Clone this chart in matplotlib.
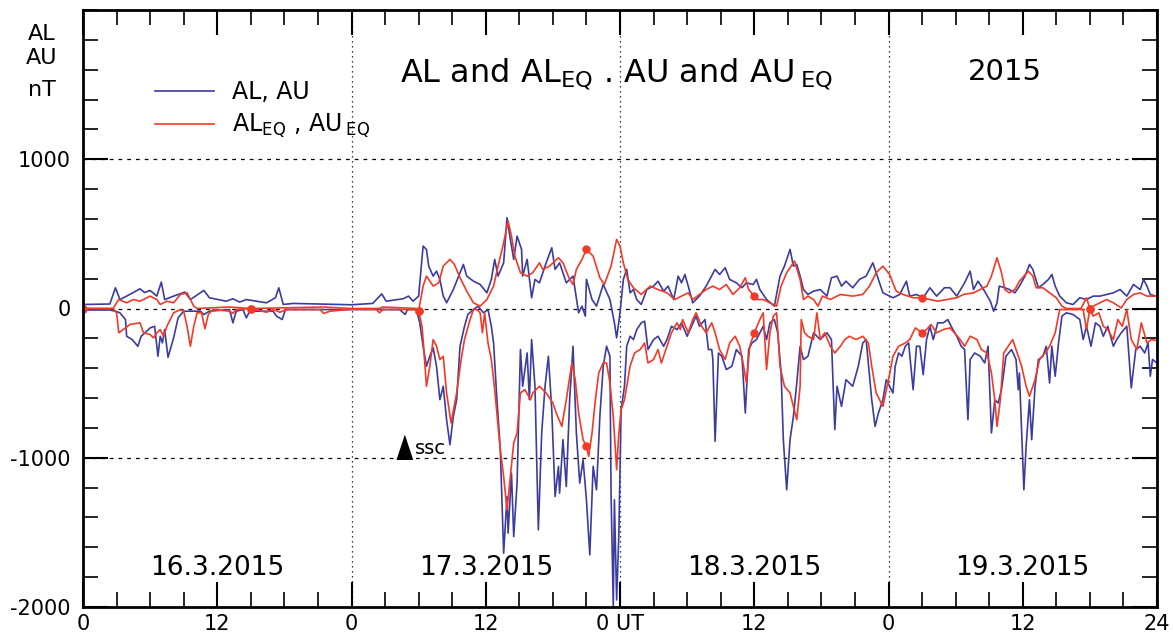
import numpy as np
import matplotlib
matplotlib.use('Agg')
from matplotlib import pyplot as plt

plt.rcParams['font.family'] = ['DejaVu Sans']
plt.rcParams['mathtext.fontset'] = 'dejavusans'

# time in hours from 16.3.2015 00 UT, values in nT
al_t = [0, 2.4, 2.9, 3.3, 3.8, 3.9, 4.4, 4.9, 5.2, 6.0, 6.4, 6.7, 6.9, 7.1, 7.3, 7.6, 8.1, 8.5, 9.0,
        10.5, 10.8, 11.3, 13.1, 13.4, 13.7, 14.3, 14.6, 14.9, 17.0, 17.3, 17.8, 18.1, 24.0,
        28.3, 28.8, 29.0, 29.8, 30.1, 30.4, 30.7, 31.0, 31.3, 31.6, 31.9, 32.2, 32.5, 32.8, 33.1, 33.4,
        33.7, 34.1, 34.4, 34.9, 35.3, 35.8, 36.2, 36.5, 36.7, 37.0, 37.3, 37.6, 37.9, 38.0, 38.3, 38.5,
        38.8, 39.1, 39.3, 39.7, 39.9, 40.1, 40.4, 40.7, 41.0, 41.3, 41.6, 41.9, 42.2, 42.5, 42.6, 42.9,
        43.2, 43.5, 43.8, 44.1, 44.4, 44.7, 45.0, 45.3, 45.6, 45.9, 46.2, 46.5, 46.8, 47.1, 47.2, 47.4,
        47.5, 47.7, 47.9, 48.1, 48.4, 48.6, 48.9, 49.2, 49.5, 49.9,
        50.2, 50.5, 51.0, 51.4, 51.9, 52.2, 52.6, 53.1, 53.5, 54.0, 54.4, 54.8, 55.1, 55.6, 55.9, 56.2,
        56.3, 56.5, 56.8, 57.1, 57.5, 58.0, 58.4, 58.9, 59.2, 59.5, 59.8, 60.2, 60.5, 60.8, 61.1, 61.4,
        61.8, 62.1, 62.4, 62.6, 62.9, 63.2, 63.5, 63.8, 64.1, 64.4, 64.8, 65.3, 65.9, 66.5, 66.9, 67.2,
        67.4, 67.8, 68.2, 68.8, 69.3, 69.7, 70.0, 70.5, 70.8, 71.1, 71.5, 71.8, 72.1, 72.4,
        72.6, 72.9, 73.2, 73.5, 73.8, 74.2, 74.5, 74.8, 75.1, 75.4, 75.7, 76.0, 76.4, 76.9, 77.3, 77.6,
        78.1, 78.5, 78.8, 79.1, 79.3, 79.7, 80.2, 80.6, 80.9, 81.2, 81.5, 81.8, 82.1, 82.5, 83.0, 83.4,
        83.6, 83.7, 84.1, 84.3, 84.6, 84.8, 85.1, 85.4, 85.8, 86.1, 86.4, 86.6, 86.9, 87.2, 87.5, 87.9,
        88.5, 89.1, 89.4, 89.7, 90.1, 90.5, 90.9, 91.2, 91.6, 92.1, 92.4, 92.8, 93.3, 93.7, 94.1, 94.5,
        94.9, 95.2, 95.4, 95.6, 96.0]
al_v = [-10, -10, -18, -29, -74, -186, -208, -253, -186, -130, -119, -320, -186, -230, -141, -327, -197, -63, -18,
        -18, -40, -18, -7, -96, -18, -7, -63, -18, -18, -51, -74, -7, -7,
        -7, -40, -7, -7, -96, -253, -387, -320, -264, -387, -611, -521, -745, -913, -723, -611,
        -253, -119, -40, -7, 16, -29, -7, -119, -231, -611, -946, -1640, -1260, -1505, -1103, -1528,
        -1170, -275, -521, -298, -611, -208, -521, -1483, -834, -521, -320, -678, -1260, -1058, -1237, -879,
        -1193, -611, -253, -834, -1170, -1014, -1282, -1651, -1058, -1215, -723, -387, -253, -320, -1237, -1995,
        -1282, -1953, -1505, -678, -521, -253, -186, -208, -141, -96,
        -85, -275, -208, -186, -253, -208, -119, -141, -96, -186, -119, -51, -119, -74, -275, -275,
        -342, -890, -298, -320, -409, -387, -275, -320, -700, -275, -231, -208, -163, -119, -208, -96,
        -74, -163, -432, -879, -1215, -879, -723, -499, -253, -342, -320, -163, -208, -163, -208, -812,
        -521, -656, -477, -521, -387, -231, -208, -611, -790, -700, -611, -477, -521, -566,
        -387, -298, -320, -253, -231, -544, -253, -253, -443, -208, -119, -208, -96, -96, -74, -119,
        -186, -253, -275, -745, -342, -298, -320, -365, -253, -834, -611, -633, -544, -320, -275, -342,
        -544, -432, -1215, -924, -611, -879, -521, -342, -320, -253, -499, -253, -454, -231, -51, -29,
        -40, -74, -208, -119, -253, -96, -119, -186, -119, -253, -208, -163, -119, -532, -275, -253,
        -298, -231, -454, -342, -365]

au_t = [0, 2.4, 2.9, 3.3, 3.9, 5.1, 5.5, 6.0, 6.6, 7.0, 7.3, 8.1, 9.1, 9.6, 10.8, 11.3, 12.8, 13.4,
        14.0, 14.6, 15.5, 16.4, 17.2, 17.5, 17.9, 18.8, 21.0, 24.0,
        25.9, 26.7, 27.1, 28.6, 29.1, 29.5, 30.0, 30.4, 30.7, 30.9, 31.3, 31.6, 31.9, 32.2, 32.5, 33.1,
        33.7, 34.0, 34.3, 34.9, 35.5, 36.1, 36.5, 36.8, 37.1, 37.6, 37.9, 38.2, 38.5, 38.8, 39.2, 39.3,
        39.7, 40.1, 40.4, 40.8, 41.4, 41.9, 42.2, 42.6, 43.2, 43.8, 44.3, 44.6, 44.9, 45.0, 45.5, 45.9,
        46.5, 47.1, 47.5, 47.7, 48.0, 48.3, 48.6, 48.9, 49.2, 49.5, 49.9,
        50.4, 51.0, 51.4, 51.9, 52.3, 52.8, 53.2, 53.5, 53.8, 54.1, 54.5, 55.1, 55.7, 56.5, 56.9, 57.4,
        57.8, 58.4, 58.9, 59.3, 59.9, 60.2, 60.5, 61.1, 61.8, 62.3, 62.7, 63.2, 63.5, 63.8, 64.1, 64.4,
        64.8, 65.3, 65.9, 66.5, 66.9, 67.4, 67.8, 68.2, 68.8, 69.4, 70.0, 70.6, 71.1, 71.5, 72.1,
        72.4, 73.0, 73.6, 73.9, 74.5, 75.1, 75.7, 76.3, 77.0, 77.5, 78.1, 78.8, 79.3, 79.6, 80.0, 80.5,
        81.1, 81.4, 81.7, 81.9, 82.4, 82.8, 83.3, 83.7, 84.2, 84.6, 84.9, 85.4, 85.8, 86.3, 86.6, 86.9,
        87.3, 87.9, 88.5, 89.1, 89.7, 90.3, 90.9, 91.5, 92.1, 92.7, 93.3, 93.9, 94.5, 94.8, 95.1, 95.4,
        95.9, 96.0]
au_v = [27, 30, 139, 60, 83, 132, 107, 121, 83, 177, 60, 83, 110, 60, 121, 72, 49, 65,
        43, 60, 49, 38, 72, 139, 27, 34, 30, 25,
        34, 98, 49, 65, 83, 49, 83, 418, 396, 284, 217, 250, 195, 83, 38, 127,
        240, 295, 217, 183, 161, 105, 195, 329, 217, 306, 608, 463, 329, 485, 396, 217,
        329, 72, 195, 172, 306, 407, 262, 306, 172, 217, -29, 16, -51, 195, 60, 16,
        161, 60, -96, -197, -29, 195, 262, 105, 127, 60, 27,
        127, 150, 183, 116, 150, 60, 217, 172, 228, 150, 38, 83, 150, 262, 228, 273,
        195, 172, 139, 172, 161, 195, 127, 60, 16, 217, 284, 396, 284, 295, 217, 127,
        94, 116, 127, 83, 206, 217, 150, 183, 139, 195, 217, 306, 195, 105, 83,
        72, 94, 183, 83, 94, 72, 139, 83, 139, 139, 83, 172, 250, 127, 183, 127,
        49, -18, 38, 150, 139, 127, 105, 150, 217, 295, 262, 139, 161, 195, 228, 150,
        83, 38, 27, 72, 60, 83, 83, 94, 105, 127, 83, 161, 127, 195, 150, 94,
        83, 83]

aleq_t = [0, 2.7, 3.0, 3.2, 3.6, 4.2, 5.1, 5.4, 6.0, 6.3, 6.6, 6.9, 7.2, 7.5, 8.1, 8.7, 9.0, 9.3, 9.6,
          9.9, 10.2, 10.6, 10.9, 11.2, 11.6, 13.1, 13.4, 13.7, 15.0, 16.4, 17.0, 17.6, 18.2, 21.2, 21.5,
          22.1, 24.0, 26.2, 26.5, 26.8, 29.8, 30.0, 30.3, 30.4, 30.7, 31.0, 31.3, 31.6, 31.9, 32.2, 32.5,
          32.9, 33.4, 33.8, 34.1, 34.6, 34.9, 35.2, 35.5, 35.7, 35.9, 36.2, 36.5, 36.8, 37.3, 37.6, 37.9,
          38.2, 38.5, 38.8, 39.1, 39.5, 40.0, 40.2, 40.8, 41.4, 42.0, 42.3, 42.8, 43.2, 43.7, 44.0, 44.3,
          44.7, 45.0, 45.2, 45.5, 45.8, 46.1, 46.5, 46.8, 47.1, 47.4, 47.7, 47.9, 48.1, 48.4, 48.9, 49.3,
          49.8, 50.2, 50.5, 51.0, 51.4, 51.7, 52.2, 52.6, 53.1, 53.4, 53.6, 54.1, 54.5, 54.8, 55.3, 55.7,
          56.2, 56.5, 56.9, 57.4, 57.8, 58.3, 58.7, 59.0, 59.3, 59.6, 60.0, 60.5, 60.8, 61.1, 61.4, 61.7,
          62.0, 62.3, 62.7, 63.2, 63.5, 63.8, 64.1, 64.2, 64.5, 64.8, 65.3, 65.6, 65.9, 66.3, 66.8, 67.2,
          67.7, 68.1, 68.5, 69.1, 69.7, 70.2, 70.5, 70.9, 71.5, 72.0, 72.4, 72.9, 73.5, 73.9, 74.4, 75.0,
          75.4, 75.8, 76.3, 76.9, 77.5, 77.9, 78.4, 78.8, 79.3, 79.9, 80.3, 80.8, 81.2, 81.5, 81.7, 82.0,
          82.3, 82.7, 83.1, 83.4, 83.9, 84.3, 84.6, 85.1, 85.5, 86.0, 86.4, 86.9, 87.3, 89.1, 89.4, 89.7,
          90.0, 90.3, 90.8, 91.2, 91.6, 92.1, 92.5, 92.9, 93.3, 93.7, 94.2, 94.6, 95.1, 95.5, 96.0]
aleq_v = [0, 0, -29, -163, -141, -107, -96, -163, -174, -197, -163, -141, -186, -119, -29, -7, -18, -119, -253,
          -119, -29, -29, -136, -40, -7, -18, -33, -7, 0, -25, -7, -25, -7, -7, -33,
          -18, -5, -5, -29, -7, -7, -15, -119, -208, -521, -387, -208, -253, -342, -320, -566,
          -767, -566, -342, -208, -74, -7, -7, -29, -163, -29, -231, -342, -544, -946, -1125, -1349,
          -1125, -901, -834, -566, -544, -611, -566, -521, -566, -633, -700, -790, -611, -365, -477, -700,
          -879, -924, -991, -834, -611, -432, -365, -365, -499, -723, -1080, -834, -678, -611, -387, -298,
          -275, -231, -365, -342, -275, -365, -253, -163, -96, -141, -74, -163, -74, -29, -119, -163,
          -96, -163, -275, -342, -231, -186, -253, -365, -499, -253, -163, -74, -29, -409, -163, -51,
          -29, -387, -521, -566, -656, -745, -521, -74, -163, -186, -208, -29, -208, -163, -253, -298,
          -253, -208, -186, -208, -186, -231, -387, -566, -656, -477, -320, -253, -231, -208, -130, -163,
          -141, -107, -163, -141, -130, -163, -208, -253, -186, -208, -275, -298, -432, -611, -790, -611,
          -298, -253, -208, -275, -387, -521, -588, -477, -342, -298, -253, -163, -7, -7, -7, -141,
          0, -51, -29, -119, -141, -208, -74, -119, -7, -208, -275, -96, -231, -208, -215]

aueq_t = [0, 2.7, 3.0, 3.2, 3.9, 4.5, 5.1, 6.0, 6.6, 6.9, 7.5, 8.1, 8.7, 9.3, 9.6, 9.9, 10.2, 13.0,
          15.0, 21.5, 24.0, 26.5, 26.8, 29.8, 30.0, 30.4, 30.7, 31.0, 31.3, 31.8, 32.2, 32.8, 33.2, 33.7,
          34.3, 34.9, 35.5, 36.1, 36.7, 37.1, 37.6, 38.0, 38.3, 38.6, 39.1, 39.7, 40.2, 40.8, 41.1, 41.7,
          42.5, 42.9, 43.5, 43.8, 44.1, 44.6, 45.0, 45.6, 46.2, 46.6, 47.2, 47.7, 48.0, 48.3, 48.7, 49.2,
          49.9, 50.7, 51.4, 52.2, 52.9, 53.5, 54.1, 54.5, 55.1, 55.7, 56.3, 56.9, 57.5, 58.1, 58.7, 59.2,
          59.5, 60.0, 60.3, 60.8, 61.4, 62.0, 62.4, 62.9, 63.6, 64.1, 64.4, 64.8, 65.3, 65.7, 66.1, 66.8,
          67.7, 68.8, 69.7, 70.3, 70.9, 71.5, 72.1, 72.5, 72.7, 73.3, 74.2, 75.0, 75.7, 76.4, 77.2, 78.1,
          78.7, 79.6, 80.2, 80.8, 81.2, 81.7, 82.1, 82.4, 82.8, 83.3, 83.7, 84.5, 84.9, 85.2, 85.8, 86.4,
          87.0, 87.5, 87.9, 89.2, 89.7, 90.0, 90.3, 90.9, 91.5, 92.1, 92.8, 93.3, 93.9, 94.5, 95.1, 96.0]
aueq_v = [0, 0, 38, 60, 38, 60, 49, 83, 60, 27, 49, 38, 94, 105, 60, 16, 0, 10,
          0, 10, 0, 0, 10, 0, -15, 150, 217, 183, 150, 172, 284, 329, 295, 206,
          116, 38, 16, 60, 150, 284, 441, 586, 485, 351, 240, 217, 240, 306, 262, 284,
          340, 306, 195, 161, 262, 329, 396, 351, 206, 161, 284, 463, 418, 306, 195, 139,
          94, 150, 127, 105, 60, 83, 105, 60, 94, 127, 150, 127, 161, 94, 139, 206,
          127, 83, 60, 60, 38, 16, 150, 240, 318, 195, 60, 83, 60, 16, 83, 60,
          94, 83, 94, 150, 240, 284, 228, 150, 116, 94, 72, 72, 60, 49, 60, 72,
          94, 105, 127, 150, 217, 340, 240, 127, 105, 127, 183, 250, 217, 139, 139, 105,
          72, 16, 0, 0, 72, 0, 16, 38, 60, 38, 4, 60, 94, 105, 83, 83]

eq_marks = [0, 15, 30, 45, 60, 75, 90]
day_labels = ['16.3.2015', '17.3.2015', '18.3.2015', '19.3.2015']
day_mid = [12, 36, 60, 84]
xtick_labels = ['0', '12', '0', '12', '0 UT', '12', '0', '12', '24']
ssc_time, ssc_level = 28.7, -926

blue = '#3c3ca0'
red = '#f23a26'

fig = plt.figure(figsize=(11.73, 6.34), dpi=100)
ax = fig.add_axes([83/1173, 27/634, 1074/1173, 597/634])

ax.plot(au_t, au_v, color=blue, lw=1.2)
ax.plot(al_t, al_v, color=blue, lw=1.2, label='AL, AU')
ax.plot(aueq_t, aueq_v, color=red, lw=1.2)
ax.plot(aleq_t, aleq_v, color=red, lw=1.2, label='AL$_{\\mathrm{EQ}}$ , AU$\\,_{\\mathrm{EQ}}$')
mk_u = list(np.isin(aueq_t, eq_marks))
mk_l = list(np.isin(aleq_t, eq_marks))
ax.plot(aueq_t, aueq_v, ls='none', marker='o', ms=5, color=red, markevery=mk_u)
ax.plot(aleq_t, aleq_v, ls='none', marker='o', ms=5, color=red, markevery=mk_l)

for y in [-1000, 0, 1000]:
    ax.axhline(y, color='black', lw=0.9, ls=(0, (3, 4)), zorder=0)
for x in [24, 48, 72]:
    ax.axvline(x, color='black', lw=0.9, ls=(0, (1, 3)), zorder=0)

ax.set_xlim(0, 96)
ax.set_ylim(-2000, 2000)
ax.set_xticks(np.arange(0, 97, 12))
ax.set_xticklabels(xtick_labels)
ax.set_xticks(np.arange(0, 97, 3), minor=True)
ax.set_yticks([-2000, -1000, 0, 1000])
ax.set_yticklabels(['-2000', '-1000', '0', '1000'])
ax.set_yticks(np.arange(-2000, 2001, 200), minor=True)
ax.tick_params(which='both', direction='in', top=True, right=True, labelsize=15)
ax.tick_params(axis='x', pad=5)
ax.tick_params(axis='y', pad=9)
ax.tick_params(which='major', length=18, width=1.5)
ax.tick_params(which='minor', length=11, width=1.2)
for s in ax.spines.values():
    s.set_linewidth(2)

for x, lab in zip(day_mid, day_labels):
    ax.text(x, -1740, lab, ha='center', va='center', fontsize=19)

tri = [(-0.33, -0.5), (0.33, -0.5), (0, 0.5)]
ax.plot([ssc_time], [ssc_level], marker=tri, color='black', ms=17, ls='none')
ax.text(ssc_time + 0.95, ssc_level - 10, 'ssc', ha='left', va='center', fontsize=14)

fig.text(42/1173, 1-34/634, 'AL', ha='center', va='center', fontsize=16)
fig.text(42/1173, 1-58/634, 'AU', ha='center', va='center', fontsize=16)
fig.text(42/1173, 1-90/634, 'nT', ha='center', va='center', fontsize=16)
fig.text(400/1173, 1-74/634, 'AL and AL$_{\\mathrm{EQ}}$ . AU and AU$\\,_{\\mathrm{EQ}}$',
         ha='left', va='center', fontsize=23)
fig.text(1005/1173, 1-72/634, '2015', ha='center', va='center', fontsize=21)

ax.legend(loc='upper left', bbox_to_anchor=(155/1173, 1-80/634), bbox_transform=fig.transFigure,
          frameon=False, fontsize=17, handlelength=2.5, handletextpad=0.75, labelspacing=0.35,
          borderpad=0, borderaxespad=0)

fig.savefig('out.png', dpi=100)
